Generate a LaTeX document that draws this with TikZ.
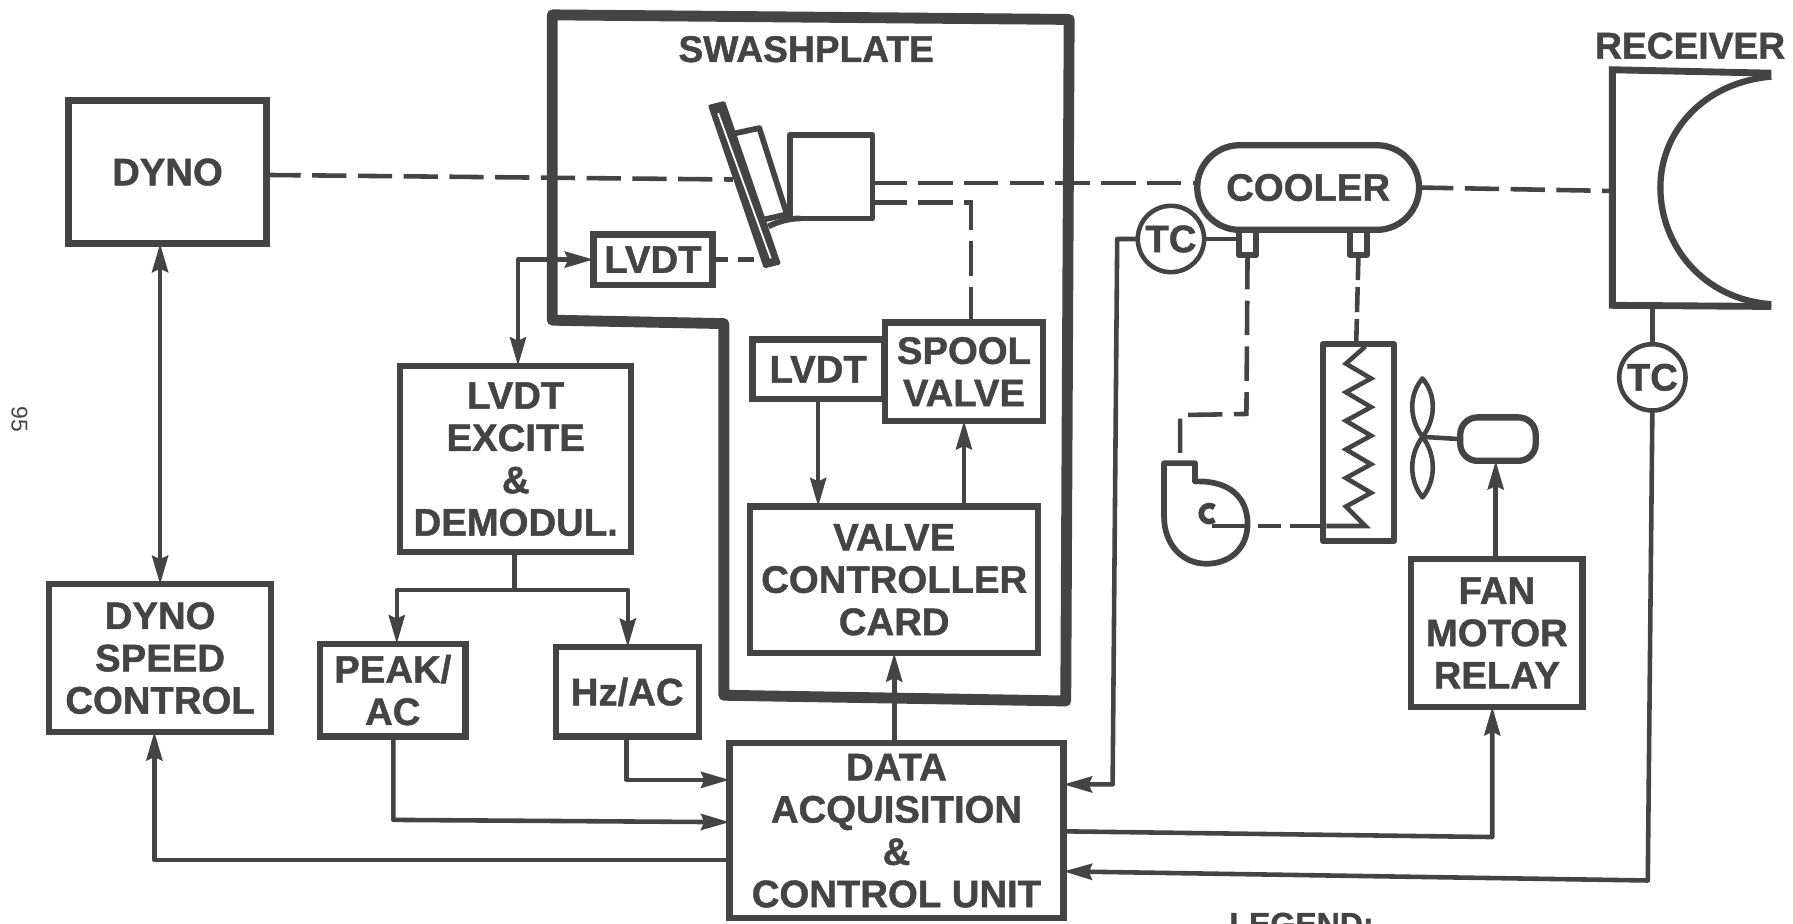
\documentclass[tikz,border=0pt]{standalone}
\usepackage{fontspec}
\setmainfont{Liberation Sans}[BoldFeatures={FakeBold=1.2}]
\usetikzlibrary{arrows.meta,shapes.misc}
\definecolor{ink}{HTML}{444444}
\tikzset{
  box/.style={draw=ink,line width=5.5pt,text=ink,inner sep=0pt,outer sep=0pt,align=center,
    font=\fontsize{33.5}{37}\selectfont\bfseries},
  lbl/.style={text=ink,inner sep=0pt,font=\fontsize{32.5}{37}\selectfont\bfseries},
  tcnode/.style={draw=ink,line width=4pt,circle,minimum size=58pt,inner sep=0pt,outer sep=0pt,text=ink,
    font=\fontsize{33.5}{37}\selectfont\bfseries},
  wire/.style={draw=ink,line width=4pt,line join=round},
  arr/.style={wire,-{Stealth[length=25pt,width=14pt,inset=3pt]}},
  dbl/.style={wire,{Stealth[length=25pt,width=14pt,inset=3pt]}-{Stealth[length=25pt,width=14pt,inset=3pt]}},
  dashln/.style={draw=ink,line width=4pt,dash pattern=on 30pt off 10pt},
  part/.style={draw=ink,line width=5pt,line join=round},
}
\begin{document}
\begin{tikzpicture}[x=1pt,y=-1pt]
\useasboundingbox (0,0) rectangle (1568,808);
% swashplate housing
\draw[draw=ink,line width=9.5pt,line join=round] (483,13) -- (935,17) -- (932,613) -- (633,608) -- (633,283) -- (483,280) -- cycle;
\node[lbl] (swashlbl) at (705,43) {SWASHPLATE};
\node[lbl] (receiverlbl) at (1478,40) {RECEIVER};
\node[text=ink,inner sep=0pt,font=\fontsize{20}{22}\selectfont,rotate=-90] (page) at (17,367) {95};
\node[lbl,font=\fontsize{28}{30}\selectfont\bfseries,anchor=north west] (legend) at (1075,798) {LEGEND:};
% boxes
\node[box,minimum width=173pt,minimum height=125pt] (dyno) at (146.5,150.5) {DYNO};
\node[box,minimum width=194pt,minimum height=129pt] (speed) at (140,575.5) {DYNO\\SPEED\\CONTROL};
\node[box,minimum width=202pt,minimum height=163pt] (excite) at (451,401.5) {LVDT\\EXCITE\\\&\\DEMODUL.};
\node[box,minimum width=127pt,minimum height=81pt] (peak) at (343.5,603.5) {PEAK/\\AC};
\node[box,minimum width=125pt,minimum height=78pt] (hz) at (548.5,605) {Hz/AC};
\node[box,minimum width=292pt,minimum height=153pt] (daq) at (784,726.5) {DATA\\ACQUISITION\\\&\\CONTROL UNIT};
\node[box,minimum width=252pt,minimum height=128pt] (vcc) at (782,507) {VALVE\\CONTROLLER\\CARD};
\node[box,minimum width=115pt,minimum height=52pt] (lvdtb) at (715.5,323) {LVDT};
\node[box,minimum width=138pt,minimum height=86pt] (spool) at (843,325) {SPOOL\\VALVE};
\node[box,minimum width=104pt,minimum height=44pt] (lvdta) at (571,227) {LVDT};
\node[box,minimum width=150pt,minimum height=129pt] (fan) at (1309,553.5) {FAN\\MOTOR\\RELAY};
\node[box,rounded rectangle,minimum width=194pt,minimum height=74pt] (cooler) at (1144,164) {COOLER};
\node[tcnode] (tca) at (1024,209) {TC};
\node[tcnode] (tcb) at (1445,330) {TC};
\node[part,rectangle,rounded corners=15pt,line width=5.5pt,minimum width=66pt,minimum height=38pt,inner sep=0pt,outer sep=0pt] (motor) at (1310,384) {};
\node[part,rectangle,minimum width=72pt,minimum height=73pt,inner sep=0pt,outer sep=0pt] (cyl) at (727,154.5) {};
\node[part,rectangle,line width=5.5pt,minimum width=62pt,minimum height=172pt,inner sep=0pt,outer sep=0pt] (coil) at (1188,387) {};
\node[part,rectangle,line width=5.5pt,minimum width=15pt,minimum height=22pt,inner sep=0pt,outer sep=0pt] (porta) at (1091,212) {};
\node[part,rectangle,line width=5.5pt,minimum width=15pt,minimum height=22pt,inner sep=0pt,outer sep=0pt] (portb) at (1188,212) {};
% swashplate
\coordinate (plateL) at (641,157);
\coordinate (plateB) at (666,227);
\draw[part,line width=3pt,fill=ink] (621,93) -- (633,90) -- (681,230) -- (669,233) -- cycle;
\draw[draw=white,line width=1.6pt] (628,99) -- (674,226);
\draw[part] (641,117) -- (664,112) -- (688,187);
\draw[part] (668,192) -- (690,187);
\draw[part] (672,198) .. controls (680,194) and (690,191) .. (700,191);
% receiver
\coordinate (rxw) at (1410,167);
\coordinate (rxs) at (1445,268);
\draw[draw=ink,line width=6pt,line join=miter] (1549,64) -- (1410,61) -- (1410,267) -- (1549,268);
\draw[draw=ink,line width=5.5pt] (1549,67) .. controls (1490,72) and (1452,115) .. (1452,164)
   .. controls (1452,215) and (1490,262) .. (1549,266);
% blower
\coordinate (bloweye) at (1060,460);
\coordinate (blowtop) at (1032,405);
\draw[part,line width=5pt] (1018,405) -- (1045,405) -- (1045,421)
   .. controls (1075,420) and (1091,435) .. (1091,458)
   .. controls (1091,480) and (1075,493) .. (1055,493)
   .. controls (1034,493) and (1018,476) .. (1018,452) -- cycle;
\draw[draw=ink,line width=5pt] (1062,454.5) arc[start angle=50,end angle=310,radius=7];
% coil
\draw[draw=ink,line width=4pt,line join=miter] (1194,303) -- (1177,318) -- (1199,331) -- (1177,343) -- (1199,356) -- (1177,368) -- (1199,381) -- (1177,393) -- (1199,406) -- (1177,418) -- (1199,431) -- (1177,443) -- (1194,460) -- (1160,460);
% fan
\coordinate (hub) at (1244,382);
\draw[part,line width=4pt] (hub) .. controls (1232,366) and (1232,345) .. (1244,331) .. controls (1256,345) and (1256,366) .. (hub)
  .. controls (1232,398) and (1232,420) .. (1244,435) .. controls (1256,420) and (1256,398) .. (hub);
\draw[wire] (hub) -- (motor.west);
% dashed lines
\draw[dashln] (dyno.east |- 0,153) -- (plateL);
\draw[dashln] (cyl.east |- 0,160) -- (cooler.west |- 0,160);
\draw[dashln] (cyl.east |- 0,177) -- (849,177) -- (spool.north -| 849,0);
\draw[dashln,dash pattern=on 14pt off 8pt] (lvdta.east) -- (plateB);
\draw[dashln] (cooler.east) -- (rxw);
\draw[dashln] (porta.south) -- (1090,362) -- (1032,363) -- (blowtop);
\draw[dashln,dash pattern=on 22pt off 6pt] (portb.south) -- (1186,301);
\draw[dashln,dash pattern=on 32pt off 8pt on 20pt off 8pt on 40pt off 0pt] (bloweye) -- (coil.west |- bloweye);
% solid connectors
\draw[dbl] (dyno.south -| 140,0) -- (speed.north -| 140,0);
\draw[dbl] (lvdta.west) -- (453,227) -- (excite.north -| 453,0);
\draw[wire] (excite.south -| 450,0) -- (450,516);
\draw[arr] (549,516) -- (347,516) -- (peak.north -| 347,0);
\draw[arr] (347,516) -- (549,516) -- (hz.north -| 549,0);
\draw[arr] (peak.south -| 344,0) -- (344,717) -- (daq.west |- 0,719);
\draw[arr] (hz.south -| 548,0) -- (548,682) -- (daq.west |- 0,682);
\draw[arr] (daq.west |- 0,752) -- (135,752) -- (speed.south -| 135,0);
\draw[arr] (lvdtb.south) -- (vcc.north -| lvdtb.south);
\draw[arr] (vcc.north -| 843,0) -- (spool.south);
\draw[arr] (daq.north -| 782,0) -- (vcc.south);
\draw[wire] (tca.east) -- (porta.west |- tca.east);
\draw[arr] (tca.west) -- (977,209) -- (973,686) -- (daq.east |- 0,686);
\draw[wire] (rxs) -- (tcb.north);
\draw[arr] (tcb.south) -- (1441,770) -- (daq.east |- 0,762);
\draw[arr] (daq.east |- 0,727) -- (1305,732) -- (fan.south -| 1305,0);
\draw[arr] (fan.north -| 1308,0) -- (motor.south -| 1308,0);
\end{tikzpicture}
\end{document}
